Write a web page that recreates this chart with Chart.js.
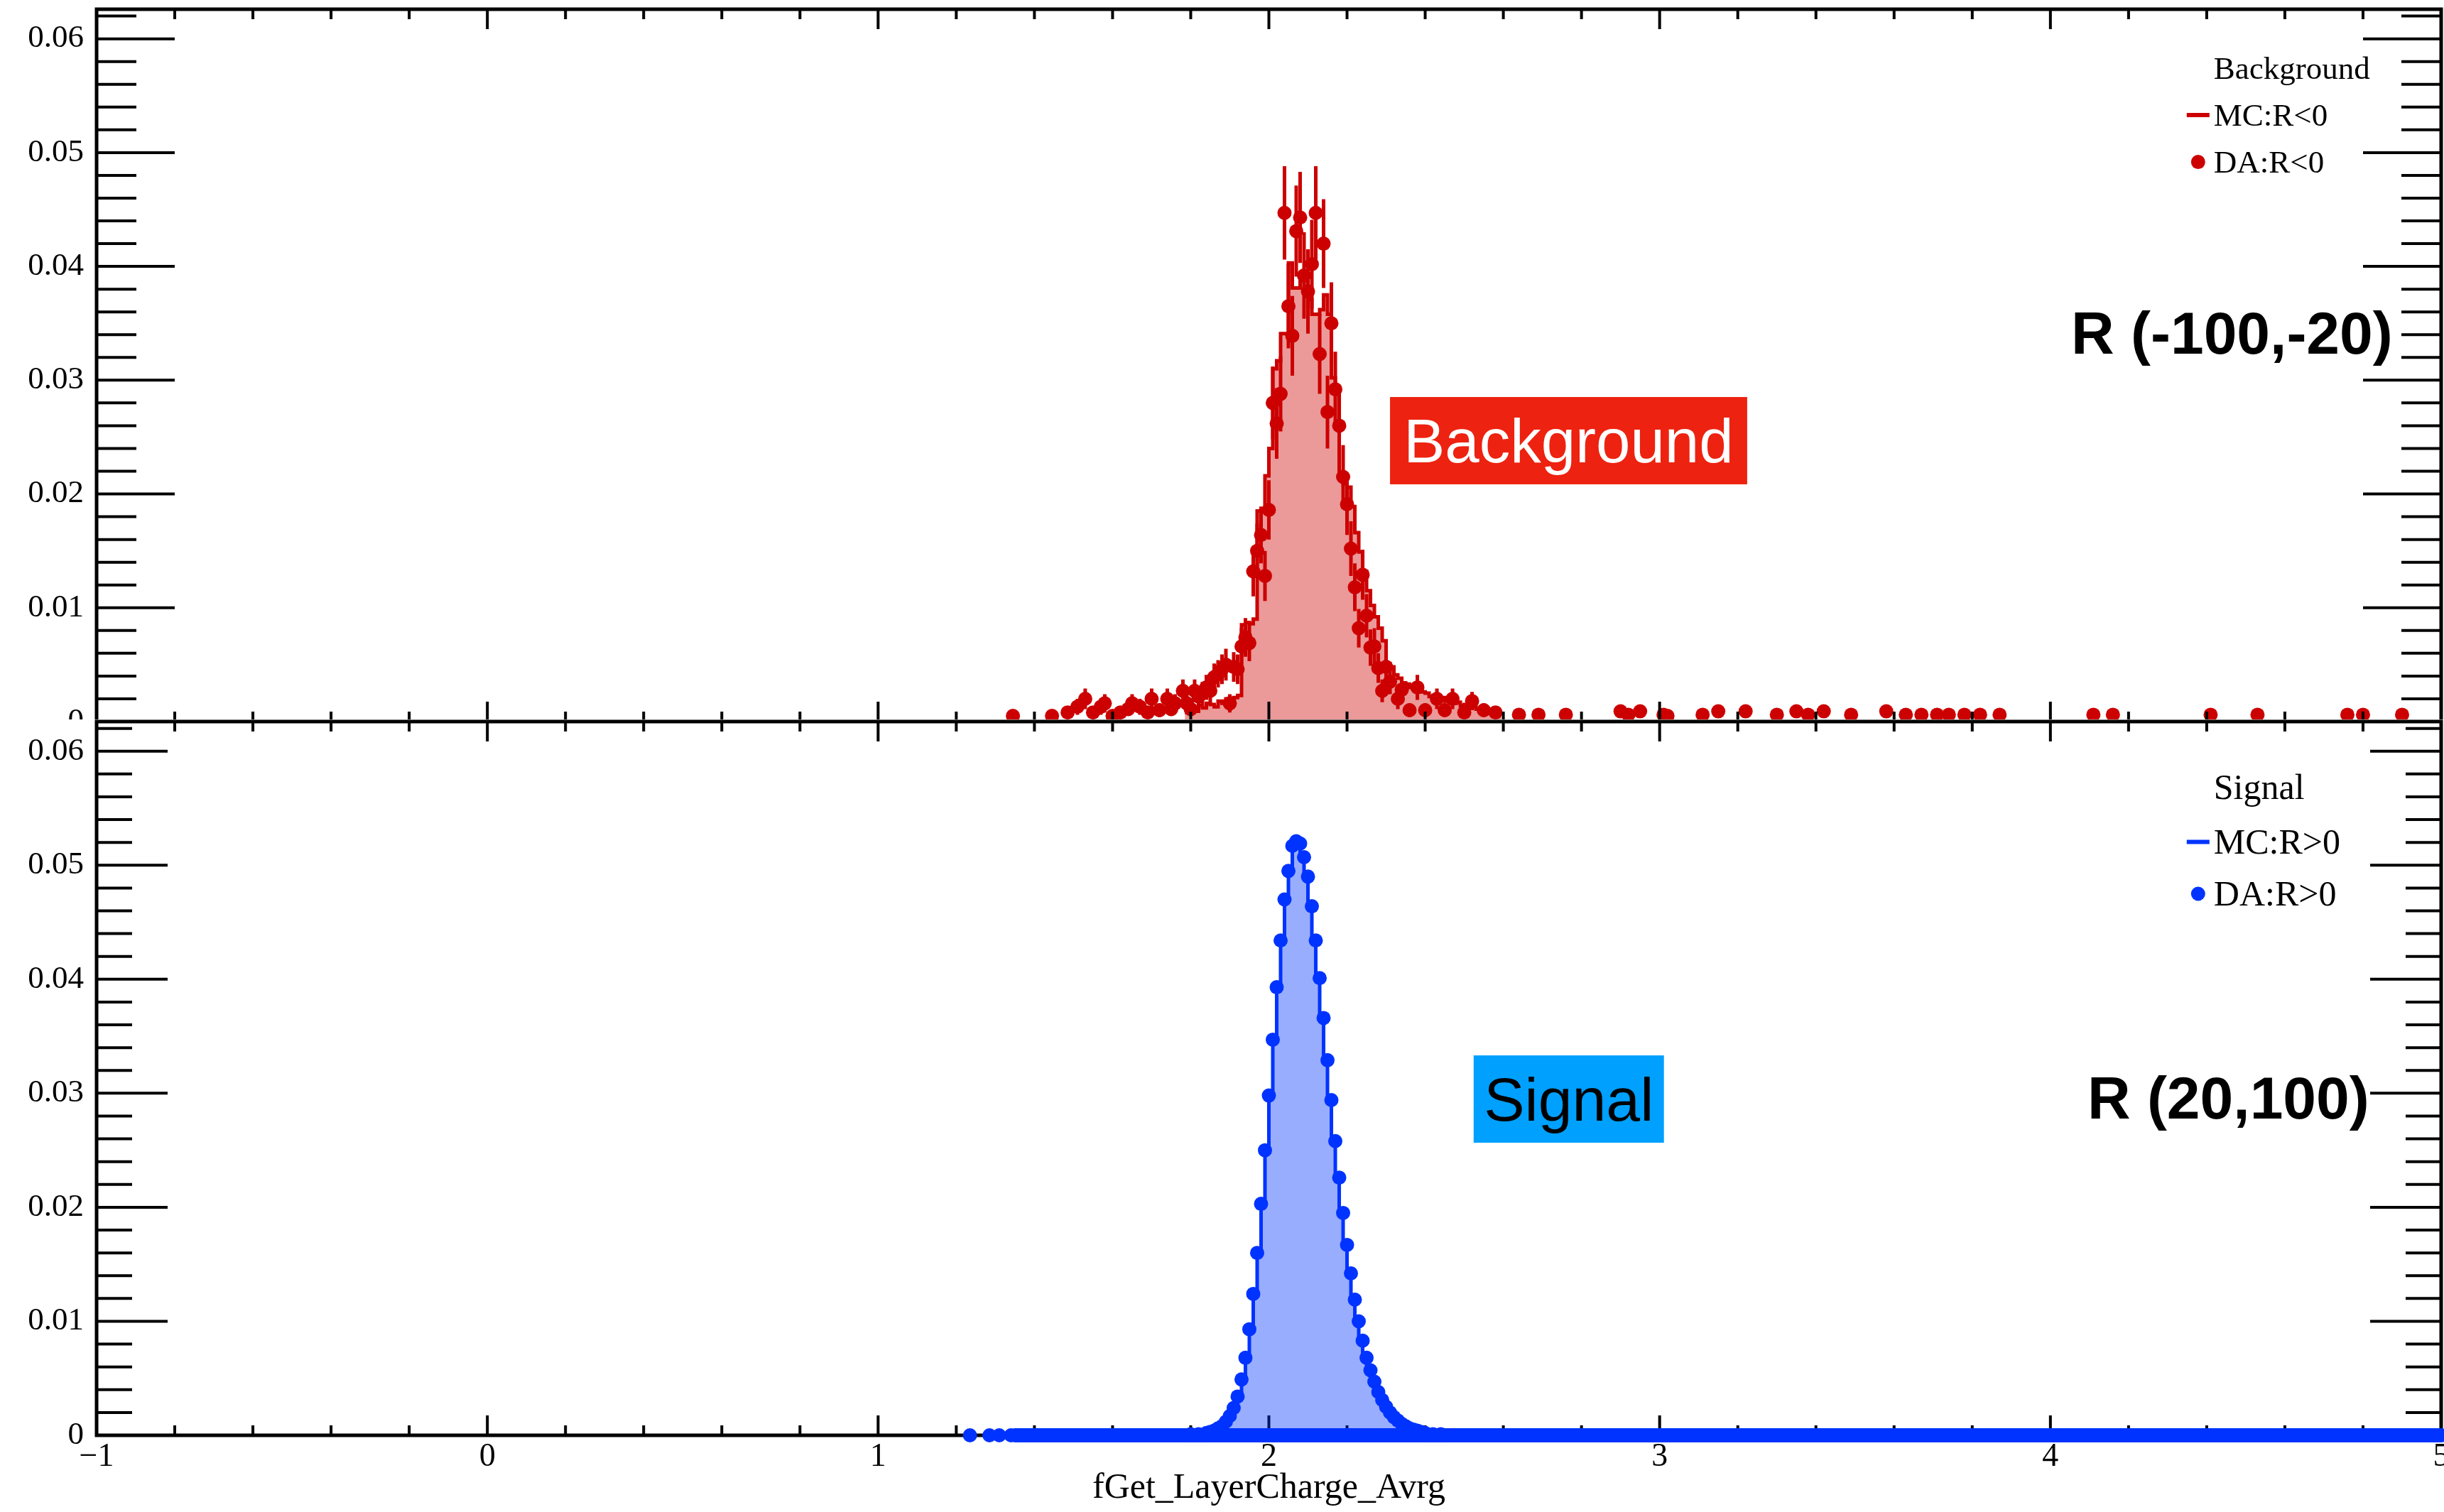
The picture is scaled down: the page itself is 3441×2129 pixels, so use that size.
<!DOCTYPE html>
<html>
<head>
<meta charset="utf-8">
<script src="https://cdn.jsdelivr.net/npm/chart.js@4.4.1/dist/chart.umd.min.js"></script>
<style>
  html, body { margin: 0; padding: 0; background: #fff; }
  body { width: 3441px; height: 2129px; position: relative; overflow: hidden; }
  .pane { position: absolute; left: 0; width: 3441px; background: #fff; }
  #top-pane { top: 0; height: 1040px; }
  #bot-pane { top: 1013px; height: 1116px; }
</style>
</head>
<body>
<div class="pane" id="top-pane"><canvas id="top-chart" width="3441" height="1040"></canvas></div>
<div class="pane" id="bot-pane"><canvas id="bot-chart" width="3441" height="1116"></canvas></div>
<script>
// ── Axes ───────────────────────────────────────────────────
const X_MIN = -1, X_MAX = 5, Y_MAX = 0.0626;
const xTicks = [-1, 0, 1, 2, 3, 4, 5];
const yTicks = [0, 0.01, 0.02, 0.03, 0.04, 0.05, 0.06];
const xMinorStep = 0.2;
const yMinorStep = 0.002;

// ── Background panel, R (-100,-20) ─────────────────────────
// MC histogram, bin centres (width 0.01)
const bgMcX = [
  1.785, 1.795, 1.805, 1.815, 1.825, 1.835, 1.845, 1.855, 1.865, 1.875,
  1.885, 1.895, 1.905, 1.915, 1.925, 1.935, 1.945, 1.955, 1.965, 1.975,
  1.985, 1.995, 2.005, 2.015, 2.025, 2.035, 2.045, 2.055, 2.065, 2.075,
  2.085, 2.095, 2.105, 2.115, 2.125, 2.135, 2.145, 2.155, 2.165, 2.175,
  2.185, 2.195, 2.205, 2.215, 2.225, 2.235, 2.245, 2.255, 2.265, 2.275,
  2.285, 2.295, 2.305, 2.315, 2.325, 2.335, 2.345, 2.355, 2.365, 2.375,
  2.385, 2.395, 2.405, 2.415, 2.425, 2.435, 2.445, 2.455, 2.465, 2.475,
  2.485, 2.495, 2.505, 2.515, 2.525, 2.535, 2.545, 2.555, 2.565, 2.575,
  2.585, 2.595
];
const bgMcY = [
  .0008, .0011, .0012, .0009, .0014, .0012, .0016, .0015, .0013, .0018,
  .0016, .0020, .0017, .0021, .0023, .0085, .0087, .0086, .0090, .0185,
  .0186, .0216, .0240, .0310, .0317, .0341, .0341, .0403, .0381, .0381,
  .0391, .0395, .0371, .0358, .0358, .0362, .0375, .0358, .0302, .0290,
  .0216, .0209, .0206, .0189, .0166, .0149, .0132, .0115, .0102, .0092,
  .0082, .0071, .0051, .0048, .0041, .0038, .0034, .0033, .0030, .0031,
  .0027, .0026, .0025, .0022, .0023, .0020, .0021, .0018, .0019, .0016,
  .0017, .0014, .0015, .0012, .0013, .0011, .0010, .0011, .0008, .0009,
  .0007, .0006
];
// data points with their error bars
const bgDaX = [
  1.345, 1.445, 1.485, 1.51, 1.53, 1.55, 1.57, 1.58, 1.60, 1.62, 1.64, 1.65, 1.67, 1.69, 1.70, 1.72, 1.74, 1.75, 1.76, 1.78, 1.79,
  1.80, 1.81, 1.82, 1.83, 1.84, 1.85, 1.86, 1.87, 1.88, 1.89,
  1.90, 1.91, 1.92, 1.93, 1.94, 1.95, 1.96, 1.97, 1.98, 1.99,
  2.00, 2.01, 2.02, 2.03, 2.04, 2.05, 2.06, 2.07, 2.08, 2.09,
  2.10, 2.11, 2.12, 2.13, 2.14, 2.15, 2.16, 2.17, 2.18, 2.19,
  2.20, 2.21, 2.22, 2.23, 2.24, 2.25, 2.26, 2.27, 2.28, 2.29,
  2.30, 2.31,
  2.33, 2.34, 2.36, 2.38, 2.40, 2.43, 2.45, 2.47, 2.50, 2.52, 2.55, 2.58,
  2.64, 2.69, 2.76, 2.90, 2.92, 2.95, 3.01, 3.02, 3.11, 3.15,
  3.22, 3.30, 3.35, 3.38, 3.42, 3.49, 3.58, 3.63, 3.67, 3.71,
  3.74, 3.78, 3.82, 3.87, 4.11, 4.16, 4.41, 4.53, 4.76, 4.80,
  4.90
];
const bgDaY = [
  .0005, .0005, .0008, .0013, .0020, .0008, .0013, .0016, .0005, .0008, .0011, .0016, .0013, .0008, .0020, .0010, .0020, .0011, .0016, .0027, .0016,
  .0011, .0027, .0022, .0025, .0030, .0027, .0039, .0042, .0046, .0050,
  .0016, .0048, .0046, .0066, .0074, .0069, .0132, .0150, .0164, .0128,
  .0186, .0280, .0262, .0288, .0447, .0365, .0339, .0431, .0443, .0392,
  .0378, .0402, .0447, .0323, .0420, .0272, .0350, .0292, .0260, .0215,
  .0191, .0152, .0118, .0082, .0129, .0093, .0065, .0066, .0047, .0027,
  .0048, .0035,
  .0020, .0028, .0010, .0030, .0010, .0020, .0010, .0020, .0008, .0018, .0010, .0008,
  .0006, .0006, .0006, .0009, .0006, .0009, .0006, .0005, .0006, .0009,
  .0009, .0006, .0009, .0006, .0009, .0006, .0009, .0006, .0006, .0006,
  .0006, .0006, .0006, .0006, .0006, .0006, .0006, .0006, .0006, .0006,
  .0006
];
const bgDaErr = [
  .0004, .0004, .0005, .0007, .0009, .0005, .0007, .0008, .0004, .0005, .0006, .0008, .0007, .0005, .0009, .0006, .0009, .0006, .0008, .0010, .0008,
  .0006, .0010, .0009, .0010, .0011, .0010, .0012, .0012, .0013, .0014,
  .0008, .0013, .0013, .0016, .0017, .0016, .0022, .0024, .0025, .0022,
  .0026, .0032, .0031, .0033, .0041, .0037, .0035, .0040, .0040, .0038,
  .0037, .0039, .0041, .0035, .0039, .0032, .0036, .0033, .0031, .0028,
  .0027, .0024, .0021, .0017, .0022, .0019, .0016, .0016, .0013, .0010,
  .0013, .0011,
  .0009, .0010, .0006, .0011, .0006, .0009, .0006, .0009, .0005, .0008, .0006, .0005,
  .0004, .0004, .0004, .0005, .0004, .0005, .0004, .0004, .0004, .0005,
  .0005, .0004, .0005, .0004, .0005, .0004, .0005, .0004, .0004, .0004,
  .0004, .0004, .0004, .0004, .0004, .0004, .0004, .0004, .0004, .0004,
  .0004
];

// ── Signal panel, R (20,100) ───────────────────────────────
const sigMcX = [
  1.835, 1.845, 1.855, 1.865, 1.875, 1.885, 1.895, 1.905, 1.915, 1.925,
  1.935, 1.945, 1.955, 1.965, 1.975, 1.985, 1.995, 2.005, 2.015, 2.025,
  2.035, 2.045, 2.055, 2.065, 2.075, 2.085, 2.095, 2.105, 2.115, 2.125,
  2.135, 2.145, 2.155, 2.165, 2.175, 2.185, 2.195, 2.205, 2.215, 2.225,
  2.235, 2.245, 2.255, 2.265, 2.275, 2.285, 2.295, 2.305, 2.315, 2.325,
  2.335, 2.345, 2.355, 2.365, 2.375, 2.385, 2.395, 2.405, 2.415
];
const sigMcY = [
  .0002, .0002, .0003, .0004, .0006, .0008, .0012, .0017, .0024, .0034,
  .0049, .0068, .0093, .0124, .0160, .0203, .0250, .0298, .0347, .0393,
  .0434, .0470, .0495, .0517, .0521, .0507, .0490, .0464, .0434, .0401,
  .0366, .0329, .0294, .0258, .0226, .0195, .0167, .0142, .0119, .0100,
  .0083, .0068, .0057, .0047, .0038, .0031, .0025, .0020, .0016, .0013,
  .0010, .0008, .0006, .0005, .0004, .0003, .0002, .0002, .0001
];
const sigDaX = [
  1.235, 1.285, 1.31, 1.34, 1.80, 1.82,
  1.84, 1.85, 1.86, 1.87, 1.88, 1.89, 1.90, 1.91, 1.92, 1.93,
  1.94, 1.95, 1.96, 1.97, 1.98, 1.99, 2.00, 2.01, 2.02, 2.03,
  2.04, 2.05, 2.06, 2.07, 2.08, 2.09, 2.10, 2.11, 2.12, 2.13,
  2.14, 2.15, 2.16, 2.17, 2.18, 2.19, 2.20, 2.21, 2.22, 2.23,
  2.24, 2.25, 2.26, 2.27, 2.28, 2.29, 2.30, 2.31, 2.32, 2.33,
  2.34, 2.35, 2.36, 2.37, 2.38, 2.39, 2.40, 2.42, 2.44
];
const sigDaY = [
  0, 0, 0, 0, .0001, .0001,
  .0002, .0003, .0004, .0006, .0008, .0012, .0017, .0024, .0034, .0049,
  .0068, .0093, .0124, .0160, .0203, .0250, .0298, .0347, .0393, .0434,
  .0470, .0495, .0517, .0521, .0519, .0507, .0490, .0464, .0434, .0401,
  .0366, .0329, .0294, .0258, .0226, .0195, .0167, .0142, .0119, .0100,
  .0083, .0068, .0057, .0047, .0038, .0031, .0025, .0020, .0016, .0013,
  .0010, .0008, .0006, .0005, .0004, .0003, .0002, .0001, .0001
];
// zero-level data markers from 1.35 to 5 overlap into one solid run
const sigDaFlatX = [1.35, 5.0];
const sigDaFlatY = [0, 0];

const RED   = '#cc0000';
const BLUE  = '#0033ff';
const SERIF = '"Liberation Serif", "Times New Roman", serif';
const SANS  = '"Liberation Sans", Arial, sans-serif';

function pts(xs, ys) {
  return xs.map(function(x, i) { return { x: x, y: ys[i] }; });
}

// ── ROOT-style frame, ticks, legend, labels ────────────────
function drawFrame(chart, cfg) {
  const ctx = chart.ctx, a = chart.chartArea;
  const xs = chart.scales.x, ys = chart.scales.y;
  ctx.save();
  ctx.strokeStyle = '#000';
  ctx.lineWidth = 4;
  ctx.beginPath();
  const nY = Math.round(Y_MAX / yMinorStep);
  for (let i = 0; i <= nY; i++) {
    const v = i * yMinorStep;
    if (v > Y_MAX) break;
    const py = ys.getPixelForValue(v);
    const len = i % 5 === 0 ? cfg.yMajor : cfg.yMinor;
    ctx.moveTo(a.left, py);  ctx.lineTo(a.left + len, py);
    ctx.moveTo(a.right, py); ctx.lineTo(a.right - len, py);
  }
  const nX = Math.round((X_MAX - X_MIN) / xMinorStep);
  for (let i = 0; i <= nX; i++) {
    const px = xs.getPixelForValue(X_MIN + i * xMinorStep);
    const len = i % 5 === 0 ? 28 : 14;
    ctx.moveTo(px, a.bottom); ctx.lineTo(px, a.bottom - len);
    ctx.moveTo(px, a.top);    ctx.lineTo(px, a.top + len);
  }
  ctx.stroke();
  ctx.lineWidth = 5;
  ctx.strokeRect(a.left, a.top, a.right - a.left, a.bottom - a.top);
  ctx.restore();
}

function drawErrors(chart, meta, ys, errs, color) {
  const ctx = chart.ctx, a = chart.chartArea, sy = chart.scales.y;
  ctx.save();
  ctx.beginPath();
  ctx.rect(a.left, a.top, a.right - a.left, a.bottom - a.top);
  ctx.clip();
  ctx.strokeStyle = color;
  ctx.lineWidth = 5;
  ctx.beginPath();
  meta.data.forEach(function(p, i) {
    ctx.moveTo(p.x, sy.getPixelForValue(ys[i] - errs[i]));
    ctx.lineTo(p.x, sy.getPixelForValue(ys[i] + errs[i]));
  });
  ctx.stroke();
  ctx.restore();
}

function drawLegend(chart, lg) {
  const ctx = chart.ctx, xs = chart.scales.x, ys = chart.scales.y;
  const tx = xs.getPixelForValue(lg.x);
  ctx.save();
  ctx.font = lg.size + 'px ' + SERIF;
  ctx.textAlign = 'left';
  ctx.textBaseline = 'alphabetic';
  lg.rows.forEach(function(r) {
    const by = ys.getPixelForValue(r.y);
    const my = by - lg.size * 0.33;
    ctx.fillStyle = '#000';
    ctx.fillText(r.text, tx, by);
    if (r.mark === 'line') {
      ctx.strokeStyle = lg.color;
      ctx.lineWidth = 6;
      ctx.beginPath();
      ctx.moveTo(tx - 38, my);
      ctx.lineTo(tx - 6, my);
      ctx.stroke();
    } else if (r.mark === 'dot') {
      ctx.fillStyle = lg.color;
      ctx.beginPath();
      ctx.arc(tx - 22, my, 10, 0, Math.PI * 2);
      ctx.fill();
    }
  });
  ctx.restore();
}

function drawNotes(chart, notes) {
  const ctx = chart.ctx, xs = chart.scales.x, ys = chart.scales.y;
  ctx.save();
  notes.forEach(function(n) {
    ctx.font = n.font;
    ctx.textBaseline = 'middle';
    if (n.box) {
      const l = xs.getPixelForValue(n.box[0]), r = xs.getPixelForValue(n.box[1]);
      const t = ys.getPixelForValue(n.box[2]), b = ys.getPixelForValue(n.box[3]);
      ctx.fillStyle = n.fill;
      ctx.fillRect(l, t, r - l, b - t);
      ctx.fillStyle = n.color;
      ctx.textAlign = 'center';
      ctx.fillText(n.text, (l + r) / 2, (t + b) / 2 + 7);
    } else {
      ctx.fillStyle = n.color;
      ctx.textAlign = n.align;
      ctx.fillText(n.text, xs.getPixelForValue(n.x), ys.getPixelForValue(n.y));
    }
  });
  ctx.restore();
}

function panelPlugin(cfg) {
  return {
    id: 'rootPanel',
    beforeDatasetsDraw: function(chart) { if (!cfg.frameOnTop) drawFrame(chart, cfg); },
    afterDatasetsDraw: function(chart) { if (cfg.frameOnTop) drawFrame(chart, cfg); },
    beforeDatasetDraw: function(chart, args) {
      if (cfg.errors && args.index === 0) drawErrors(chart, args.meta, cfg.errors.y, cfg.errors.e, cfg.errors.color);
    },
    afterDraw: function(chart) {
      drawLegend(chart, cfg.legend);
      drawNotes(chart, cfg.notes);
      if (cfg.xTitle) {
        const ctx = chart.ctx, a = chart.chartArea;
        ctx.save();
        ctx.font = '50px ' + SERIF;
        ctx.fillStyle = '#000';
        ctx.textAlign = 'center';
        ctx.textBaseline = 'middle';
        ctx.fillText(cfg.xTitle, (a.left + a.right) / 2, a.bottom + 75);
        ctx.restore();
      }
    }
  };
}

function scalesFor(showXLabels, xHeight) {
  return {
    x: {
      type: 'linear', min: X_MIN, max: X_MAX,
      afterBuildTicks: function(s) { s.ticks = xTicks.map(function(v) { return { value: v }; }); },
      afterFit: function(s) { s.height = xHeight; s.paddingLeft = 0; s.paddingRight = 0; },
      grid: { display: false, drawTicks: false },
      border: { display: false },
      ticks: {
        display: showXLabels, color: '#000', padding: 3, maxRotation: 0, autoSkip: false,
        font: { family: SERIF, size: 46 },
        callback: function(v) { return v < 0 ? '\u2212' + Math.abs(v) : String(v); }
      }
    },
    y: {
      type: 'linear', min: 0, max: Y_MAX,
      afterBuildTicks: function(s) { s.ticks = yTicks.map(function(v) { return { value: v }; }); },
      afterFit: function(s) { s.width = 136; s.paddingTop = 0; s.paddingBottom = 0; },
      grid: { display: false, drawTicks: false },
      border: { display: false },
      ticks: {
        color: '#000', padding: 18,
        font: { family: SERIF, size: 45 },
        callback: function(v) { return v === 0 ? '0' : v.toFixed(2); }
      }
    }
  };
}

function baseOptions(padTop, showXLabels, xHeight) {
  return {
    responsive: false,
    animation: false,
    events: [],
    layout: { autoPadding: false, padding: { top: padTop, right: 4, bottom: 0, left: 0 } },
    plugins: { legend: { display: false }, tooltip: { enabled: false } },
    scales: scalesFor(showXLabels, xHeight)
  };
}

// ── Background (top) ───────────────────────────────────────
new Chart(document.getElementById('top-chart'), {
  type: 'line',
  data: {
    datasets: [
      {
        label: 'DA:R<0', data: pts(bgDaX, bgDaY), showLine: false,
        pointRadius: 10, pointBorderWidth: 0, pointBackgroundColor: RED, pointBorderColor: RED,
        clip: 0, order: 1
      },
      {
        label: 'MC:R<0', data: pts(bgMcX, bgMcY), stepped: 'middle',
        borderColor: RED, borderWidth: 5, backgroundColor: 'rgba(204,0,0,0.4)', fill: 'origin',
        pointRadius: 0, clip: 0, order: 2
      }
    ]
  },
  options: baseOptions(13, false, 24),
  plugins: [panelPlugin({
    frameOnTop: true, yMajor: 110, yMinor: 56,
    errors: { y: bgDaY, e: bgDaErr, color: RED },
    legend: {
      x: 4.418, size: 45, color: RED,
      rows: [
        { y: 0.05648, text: 'Background' },
        { y: 0.05237, text: 'MC:R<0', mark: 'line' },
        { y: 0.04825, text: 'DA:R<0', mark: 'dot' }
      ]
    },
    notes: [
      { text: 'R (-100,-20)', x: 4.876, y: 0.0338, align: 'right', color: '#000', font: 'bold 84px ' + SANS },
      { text: 'Background', box: [2.310, 3.224, 0.02852, 0.02085], fill: '#ed2210', color: '#fff', font: '87px ' + SANS }
    ]
  })]
});

// ── Signal (bottom) ────────────────────────────────────────
new Chart(document.getElementById('bot-chart'), {
  type: 'line',
  data: {
    datasets: [
      {
        label: 'DA:R>0', data: pts(sigDaX, sigDaY), showLine: false,
        pointRadius: 10, pointBorderWidth: 0, pointBackgroundColor: BLUE, pointBorderColor: BLUE,
        clip: false, order: 1
      },
      {
        label: 'DA:R>0 (zero level)', data: pts(sigDaFlatX, sigDaFlatY),
        borderColor: BLUE, borderWidth: 20, borderCapStyle: 'round', fill: false,
        pointRadius: 0, clip: false, order: 1
      },
      {
        label: 'MC:R>0', data: pts(sigMcX, sigMcY), stepped: 'middle',
        borderColor: BLUE, borderWidth: 5, backgroundColor: 'rgba(0,51,255,0.4)', fill: 'origin',
        pointRadius: 0, clip: 0, order: 2
      }
    ]
  },
  options: baseOptions(3, true, 108),
  plugins: [panelPlugin({
    frameOnTop: false, yMajor: 100, yMinor: 50,
    xTitle: 'fGet_LayerCharge_Avrg',
    legend: {
      x: 4.418, size: 50, color: BLUE,
      rows: [
        { y: 0.05581, text: 'Signal' },
        { y: 0.05101, text: 'MC:R>0', mark: 'line' },
        { y: 0.04647, text: 'DA:R>0', mark: 'dot' }
      ]
    },
    notes: [
      { text: 'R (20,100)', x: 4.816, y: 0.0292, align: 'right', color: '#000', font: 'bold 84px ' + SANS },
      { text: 'Signal', box: [2.524, 3.011, 0.03332, 0.02566], fill: '#00a0ff', color: '#000', font: '86px ' + SANS }
    ]
  })]
});
</script>
</body>
</html>
